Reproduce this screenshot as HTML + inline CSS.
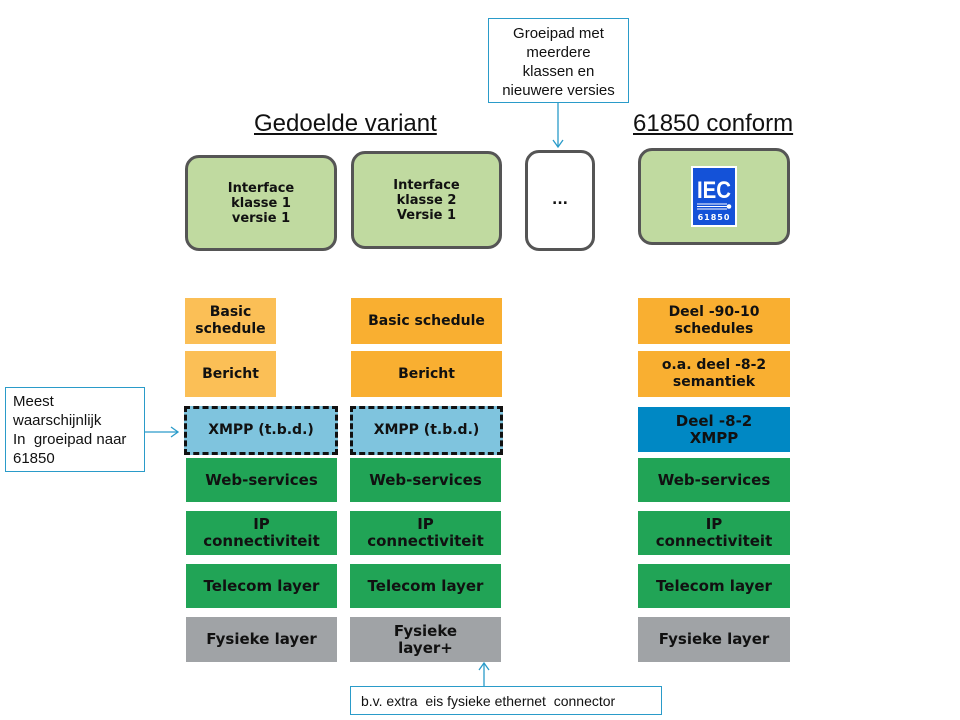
<!DOCTYPE html>
<html><head><meta charset="utf-8"><style>
body{margin:0;width:960px;height:720px;background:#fff;position:relative;overflow:hidden;font-family:"DejaVu Sans","Liberation Sans",sans-serif}
.b{position:absolute;display:flex;align-items:center;justify-content:center;text-align:center;font-weight:bold;font-size:14px;line-height:17px;color:#111;box-sizing:border-box}
.t{position:absolute;border:3px solid #555;border-radius:14px;background:#C0DAA0;box-sizing:border-box;display:flex;align-items:center;justify-content:center;text-align:center;font-weight:bold;font-size:13px;line-height:15px;color:#111}
.o1{background:#FBBF56}.o2{background:#F9AF31}.bl{background:#7FC4DE;border:3px dashed #111}.db{background:#0088C4;font-size:15px}
.g{background:#21A456;font-size:15px}.gr{background:#A0A3A6;font-size:15px}
.c{position:absolute;border:1.5px solid #2A9BC9;background:#fff;box-sizing:border-box;font-family:"Liberation Sans",sans-serif;font-size:15px;line-height:19px;color:#111}
.h{position:absolute;font-family:"Liberation Sans",sans-serif;font-size:24px;text-decoration:underline;color:#111}
</style></head><body>
<div class="h" style="left:254px;top:110px">Gedoelde variant</div>
<div class="h" style="left:633px;top:110px">61850 conform</div>
<div class="c" style="left:488px;top:18px;width:141px;height:85px;text-align:center;padding-top:5px">Groeipad met<br>meerdere<br>klassen en<br>nieuwere versies</div>
<div class="c" style="left:5px;top:387px;width:140px;height:85px;padding:4px 0 0 7px">Meest<br>waarschijnlijk<br>In&nbsp; groeipad naar<br>61850</div>
<div class="c" style="left:350px;top:686px;width:312px;height:29px;padding:5px 0 0 10px;font-size:14px">b.v. extra&nbsp; eis fysieke ethernet&nbsp; connector</div>
<svg style="position:absolute;left:0;top:0" width="960" height="720">
<g stroke="#2A9BC9" stroke-width="1.3" fill="none">
<line x1="558" y1="103" x2="558" y2="147"/><polyline points="553,140 558,147 563,140"/>
<line x1="145" y1="432" x2="178" y2="432"/><polyline points="171,427 178,432 171,437"/>
<line x1="484" y1="686" x2="484" y2="663"/><polyline points="479,670 484,663 489,670"/>
</g></svg>
<div class="t" style="left:185px;top:155px;width:152px;height:96px">Interface<br>klasse 1<br>versie 1</div>
<div class="t" style="left:351px;top:151px;width:151px;height:98px">Interface<br>klasse 2<br>Versie 1</div>
<div class="t" style="left:525px;top:150px;width:70px;height:101px;background:#fff;font-size:14px">...</div>
<div class="t" style="left:638px;top:148px;width:152px;height:97px">
<svg width="46" height="61" viewBox="0 0 46 61"><rect width="46" height="61" fill="#fff"/><rect x="2" y="2" width="42" height="57" fill="#1452D8"/>
<text x="23" y="32" fill="#fff" font-family="Liberation Sans" font-size="24" text-anchor="middle" textLength="34" lengthAdjust="spacingAndGlyphs">IEC</text>
<g stroke="#fff" stroke-width="1"><line x1="6" y1="38" x2="36" y2="38"/><line x1="6" y1="40.5" x2="36" y2="40.5"/><line x1="6" y1="43" x2="36" y2="43"/></g><circle cx="38" cy="40.5" r="2.3" fill="#fff"/>
<text x="23" y="54" fill="#fff" font-family="DejaVu Sans" font-size="8" text-anchor="middle" letter-spacing="1">61850</text></svg></div>

<div class="b o1" style="left:185px;top:298px;width:91px;height:46px">Basic<br>schedule</div>
<div class="b o1" style="left:185px;top:351px;width:91px;height:46px">Bericht</div>
<div class="b bl" style="left:184px;top:406px;width:154px;height:49px">XMPP (t.b.d.)</div>
<div class="b g" style="left:186px;top:458px;width:151px;height:44px">Web-services</div>
<div class="b g" style="left:186px;top:511px;width:151px;height:44px">IP<br>connectiviteit</div>
<div class="b g" style="left:186px;top:564px;width:151px;height:44px">Telecom layer</div>
<div class="b gr" style="left:186px;top:617px;width:151px;height:45px">Fysieke layer</div>

<div class="b o2" style="left:351px;top:298px;width:151px;height:46px">Basic schedule</div>
<div class="b o2" style="left:351px;top:351px;width:151px;height:46px">Bericht</div>
<div class="b bl" style="left:350px;top:406px;width:153px;height:49px">XMPP (t.b.d.)</div>
<div class="b g" style="left:350px;top:458px;width:151px;height:44px">Web-services</div>
<div class="b g" style="left:350px;top:511px;width:151px;height:44px">IP<br>connectiviteit</div>
<div class="b g" style="left:350px;top:564px;width:151px;height:44px">Telecom layer</div>
<div class="b gr" style="left:350px;top:617px;width:151px;height:45px">Fysieke<br>layer+</div>

<div class="b o2" style="left:638px;top:298px;width:152px;height:46px">Deel -90-10<br>schedules</div>
<div class="b o2" style="left:638px;top:351px;width:152px;height:46px">o.a. deel -8-2<br>semantiek</div>
<div class="b db" style="left:638px;top:407px;width:152px;height:45px">Deel -8-2<br>XMPP</div>
<div class="b g" style="left:638px;top:458px;width:152px;height:44px">Web-services</div>
<div class="b g" style="left:638px;top:511px;width:152px;height:44px">IP<br>connectiviteit</div>
<div class="b g" style="left:638px;top:564px;width:152px;height:44px">Telecom layer</div>
<div class="b gr" style="left:638px;top:617px;width:152px;height:45px">Fysieke layer</div>
</body></html>
